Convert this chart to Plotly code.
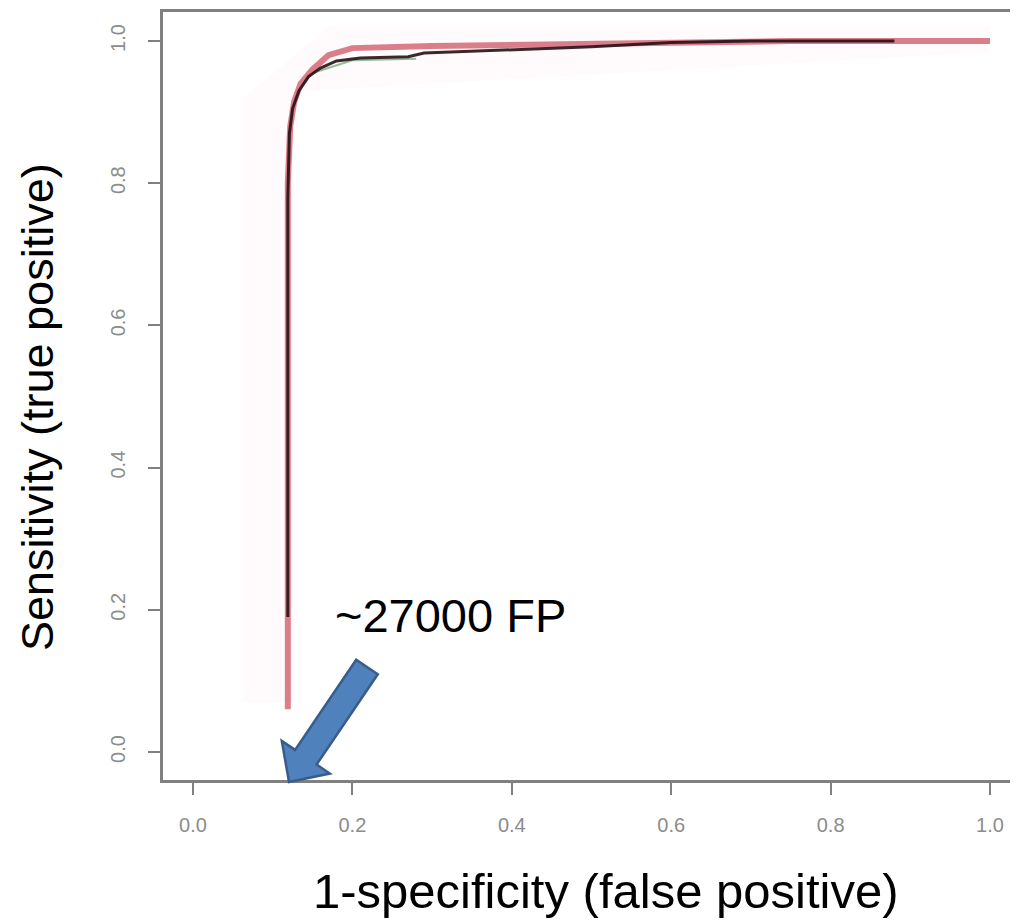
import plotly.graph_objects as go

# ---- data ----
black_fpr = [0.119, 0.119, 0.121, 0.125, 0.133, 0.145, 0.160, 0.180, 0.210, 0.270, 0.290, 0.400, 0.500, 0.600, 0.700, 0.880]
black_tpr = [0.190, 0.780, 0.870, 0.905, 0.930, 0.950, 0.962, 0.972, 0.976, 0.978, 0.983, 0.988, 0.992, 0.998, 1.000, 1.000]

red_fpr = [0.119, 0.119, 0.122, 0.127, 0.135, 0.150, 0.170, 0.200, 0.300, 0.450, 0.600, 0.750, 1.000]
red_tpr = [0.060, 0.800, 0.880, 0.915, 0.940, 0.960, 0.980, 0.990, 0.993, 0.995, 0.998, 1.000, 1.000]

green_fpr = [0.150, 0.200, 0.280]
green_tpr = [0.955, 0.973, 0.975]

band_fpr = [0.063, 0.063, 0.170, 1.000, 1.000, 0.140, 0.128, 0.128]
band_tpr = [0.070, 0.920, 1.020, 1.020, 0.985, 0.930, 0.900, 0.070]

x_ticks = [0.0, 0.2, 0.4, 0.6, 0.8, 1.0]
y_ticks = [0.0, 0.2, 0.4, 0.6, 0.8, 1.0]
x_title = "1-specificity (false positive)"
y_title = "Sensitivity (true positive)"
note_text = "~27000 FP"

# ---- layout geometry (page has an 8px body margin) ----
OFF = 8
W, H = 1018 - OFF, 921 - OFF
L, R, T, B = 163 - OFF, 0, 12 - OFF, 921 - 780
PW, PH = W - L - R, H - T - B


def px2paper(px, py):
    # px, py are screen pixels of the reference picture
    return (px - OFF - L) / PW, (H - B - (py - OFF)) / PH


fig = go.Figure()
fig.add_trace(go.Scatter(x=band_fpr, y=band_tpr, fill="toself", mode="none",
                         fillcolor="rgba(255,190,205,0.08)", hoverinfo="skip", showlegend=False))
fig.add_trace(go.Scatter(x=red_fpr, y=red_tpr, mode="lines",
                         line=dict(color="rgba(205,85,100,0.75)", width=6), showlegend=False))
fig.add_trace(go.Scatter(x=green_fpr, y=green_tpr, mode="lines",
                         line=dict(color="rgba(70,150,90,0.6)", width=2), showlegend=False))
fig.add_trace(go.Scatter(x=black_fpr, y=black_tpr, mode="lines",
                         line=dict(color="rgba(40,15,20,0.9)", width=3), showlegend=False))

# block arrow (pixel geometry -> paper coords)
arrow_px = [(377.8, 674.3), (316.6, 764.5), (329.8, 773.5), (289.0, 782.0),
            (281.8, 740.9), (295.1, 749.9), (356.2, 659.7)]
pts = [px2paper(a, b) for a, b in arrow_px]
path = "M " + " L ".join(f"{x:.5f},{y:.5f}" for x, y in pts) + " Z"
fig.add_shape(type="path", path=path, xref="paper", yref="paper",
              fillcolor="#4F81BD", line=dict(color="#385D8A", width=2.5), layer="above")

font_main = "Liberation Sans, Arial, sans-serif"
ax, ay = px2paper(450, 615)
fig.add_annotation(text=note_text, x=ax, y=ay, xref="paper", yref="paper",
                   showarrow=False, xanchor="center", yanchor="middle",
                   font=dict(family=font_main, size=47, color="black"))
tx, ty = px2paper(605, 891)
fig.add_annotation(text=x_title, x=tx, y=ty, xref="paper", yref="paper",
                   showarrow=False, xanchor="center", yanchor="middle",
                   font=dict(family=font_main, size=49, color="black"))
yx, yy = px2paper(37, 407)
fig.add_annotation(text=y_title, x=yx, y=yy, xref="paper", yref="paper",
                   showarrow=False, xanchor="center", yanchor="middle", textangle=-90,
                   font=dict(family=font_main, size=45, color="black"))

fig.update_layout(
    width=W, height=H,
    margin=dict(l=L, r=R, t=T, b=B),
    paper_bgcolor="white", plot_bgcolor="white",
    showlegend=False,
    xaxis=dict(range=[-0.0376, 1.0351], tickvals=x_ticks, ticktext=[f"{v:.1f}" for v in x_ticks],
               showgrid=False, zeroline=False, showline=True, linecolor="#808080", linewidth=3,
               mirror=True, ticks="outside", ticklen=12, tickwidth=2, tickcolor="#808080",
               tickfont=dict(family=font_main, size=20, color="#8c8c8c"), ticklabelstandoff=13),
    yaxis=dict(range=[-0.0394, 1.0408], tickvals=y_ticks, ticktext=[f"{v:.1f}" for v in y_ticks],
               showgrid=False, zeroline=False, showline=True, linecolor="#808080", linewidth=3,
               mirror=False, ticks="outside", ticklen=12, tickwidth=2, tickcolor="#808080",
               tickangle=-90,
               tickfont=dict(family=font_main, size=20, color="#8c8c8c"), ticklabelstandoff=15),
)

fig.write_html("out.html")
